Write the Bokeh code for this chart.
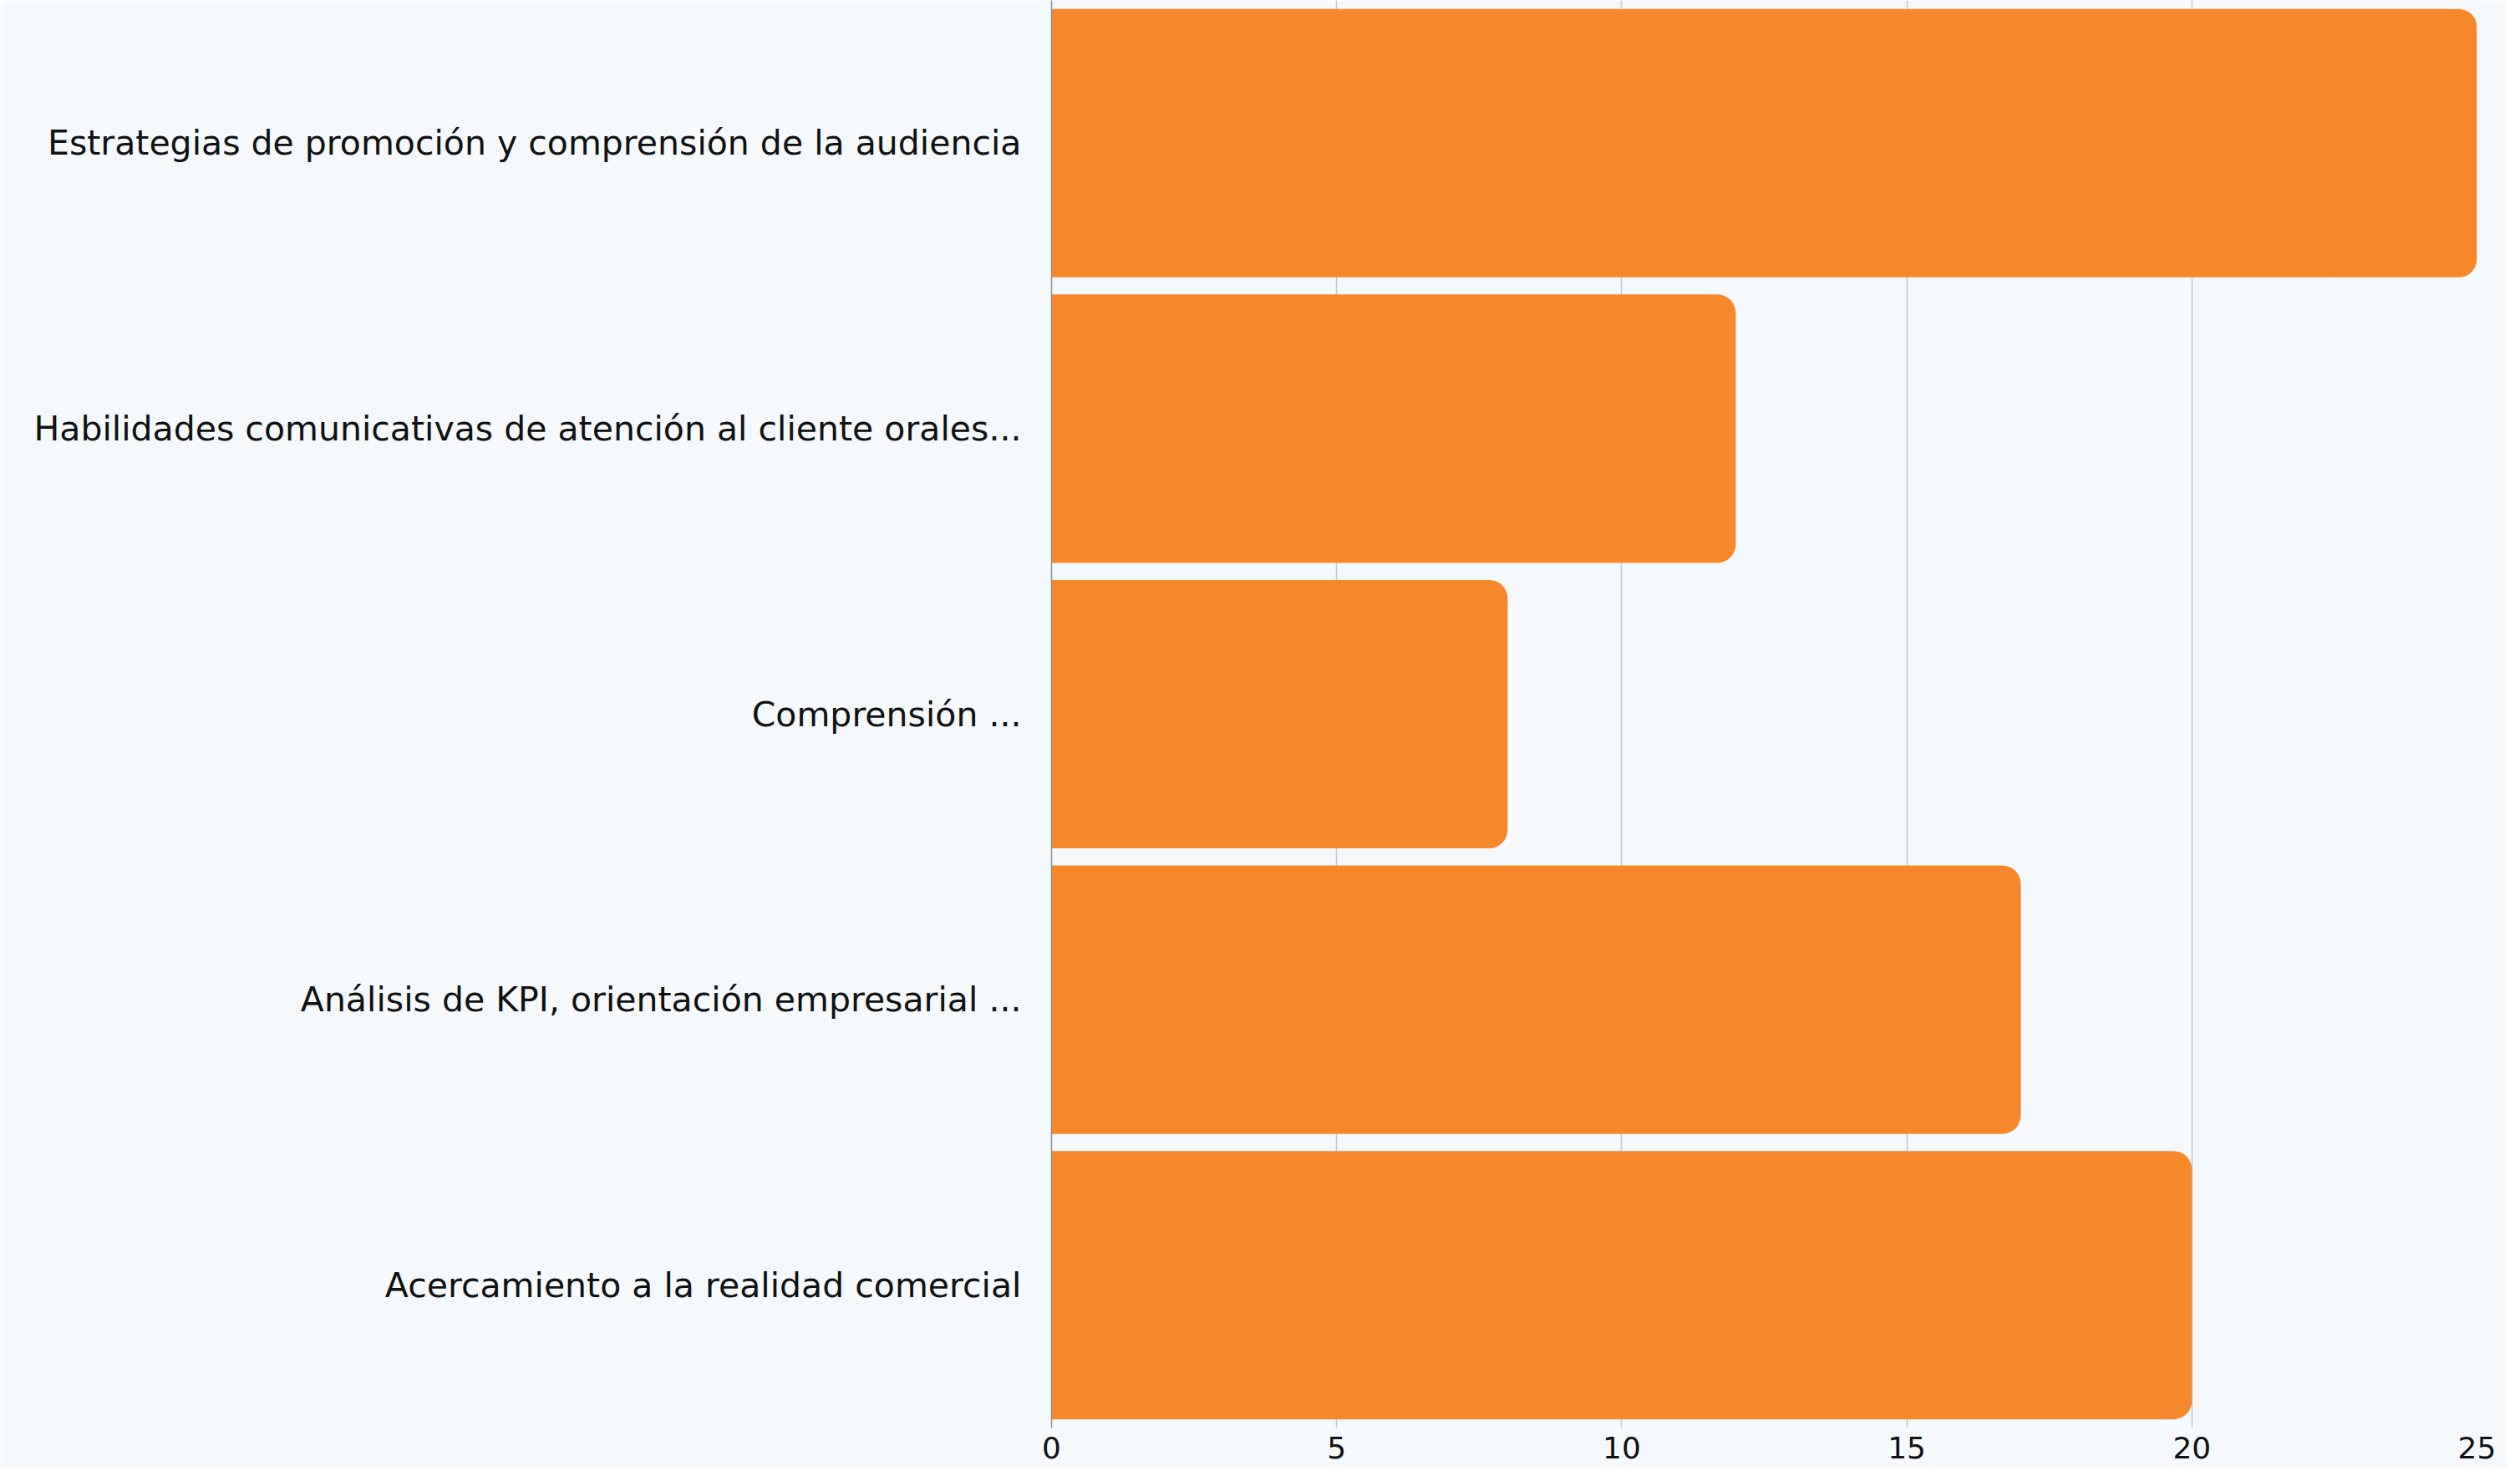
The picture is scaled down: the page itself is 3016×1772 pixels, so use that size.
from bokeh.plotting import figure
from bokeh.models import ColumnDataSource, FactorRange, Range1d, FixedTicker
from bokeh.embed import file_html
from bokeh.resources import INLINE

categories = [
    "Estrategias de promoción y comprensión de la audiencia",
    "Habilidades comunicativas de atención al cliente orales...",
    "Comprensión ...",
    "Análisis de KPI, orientación empresarial ...",
    "Acercamiento a la realidad comercial",
]
values = [25, 12, 8, 17, 20]
x_ticks = [0, 5, 10, 15, 20, 25]

BG = "#f5f9fc"
BAR = "#f6872b"
FONT = "DejaVu Sans"

src = ColumnDataSource(dict(cat=categories, val=values))

p = figure(
    width=3000, height=1756,
    y_range=FactorRange(factors=list(reversed(categories)), range_padding=0),
    x_range=Range1d(0, 25),
    output_backend="svg", toolbar_location=None,
    background_fill_color=BG, border_fill_color=BG,
    min_border_left=1258, min_border_right=36, min_border_top=0, min_border_bottom=48,
)
p.outline_line_color = None

p.hbar(y="cat", right="val", left=0, height=0.94, source=src,
       fill_color=BAR, line_color=None,
       border_radius=(0, 22, 22, 0))

p.xaxis.ticker = FixedTicker(ticks=x_ticks)
p.xaxis.axis_line_color = None
p.xaxis.major_tick_line_color = None
p.xaxis.minor_tick_line_color = None
p.xaxis.major_label_text_font = FONT
p.xaxis.major_label_text_font_size = "36px"
p.xaxis.major_label_text_color = "#111111"
p.xaxis.major_label_standoff = 4

p.yaxis.axis_line_color = "#8f9499"
p.yaxis.axis_line_width = 1.5
p.yaxis.major_tick_line_color = None
p.yaxis.minor_tick_line_color = None
p.yaxis.major_label_text_font = FONT
p.yaxis.major_label_text_font_size = "41px"
p.yaxis.major_label_text_color = "#111111"
p.yaxis.major_label_standoff = 30

p.ygrid.grid_line_color = None
p.xgrid.grid_line_color = "#c3c7cb"
p.xgrid.grid_line_width = 1.5

open("out.html", "w").write(file_html(p, INLINE))
